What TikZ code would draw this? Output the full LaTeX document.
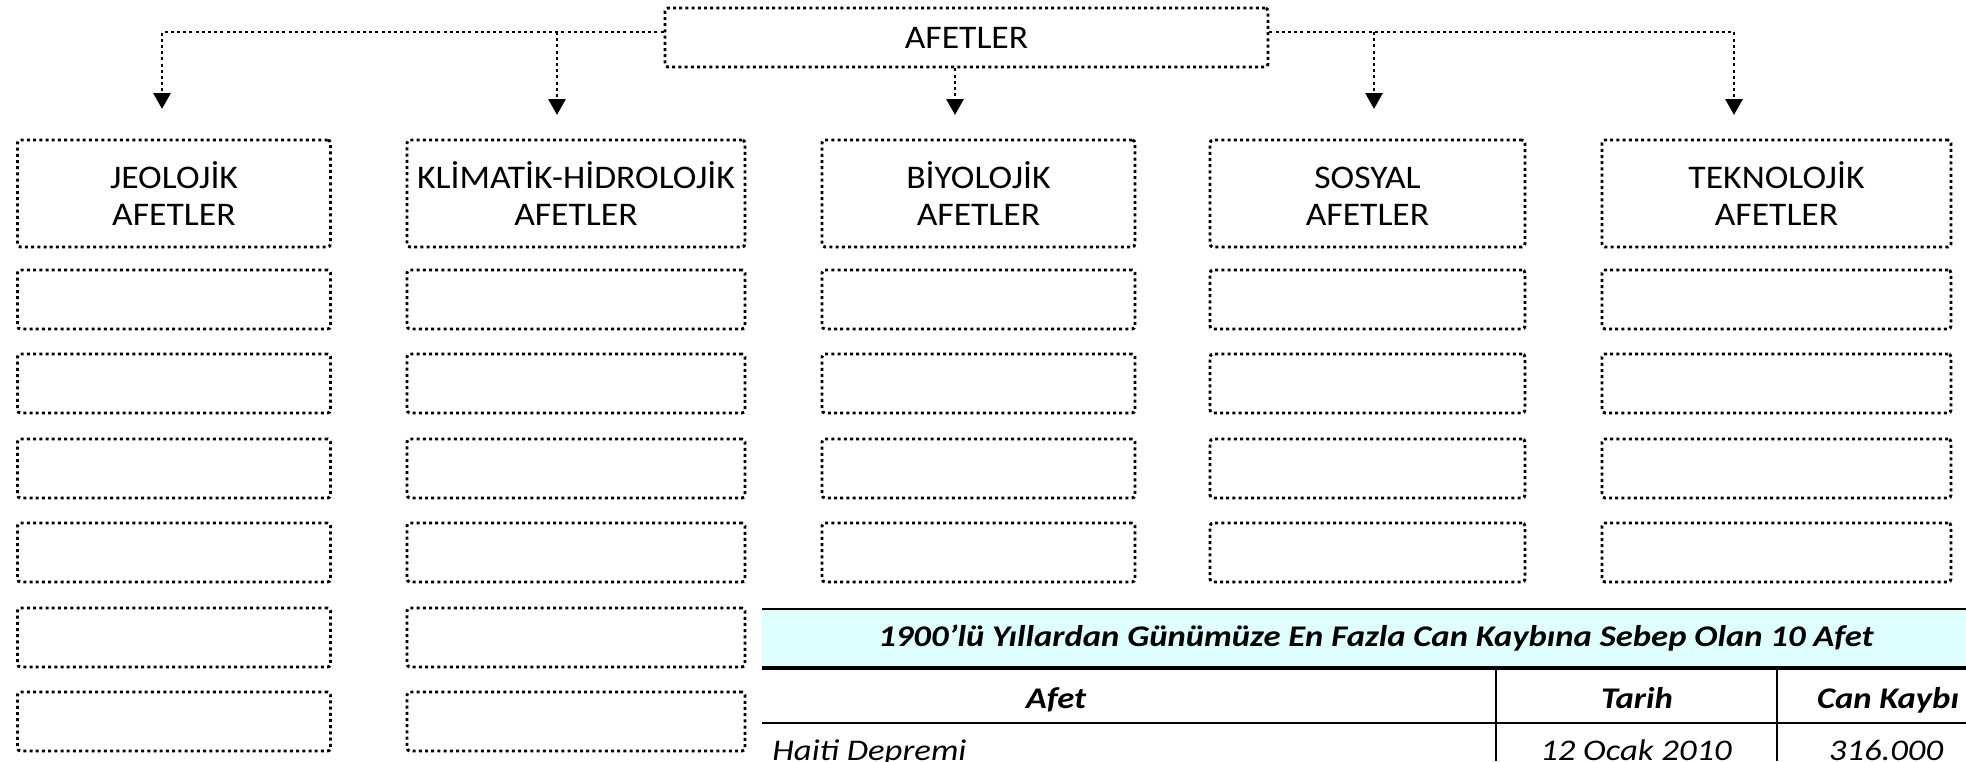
\documentclass[tikz,border=0pt]{standalone}
\usepackage{fontspec}
\setmainfont{Carlito}[FakeStretch=1.08]
\newfontfamily\tabfont{Carlito}[FakeStretch=1.155]
\usetikzlibrary{arrows.meta}
\definecolor{tcyan}{RGB}{223,255,255}
\begin{document}
\begin{tikzpicture}[x=0.5pt,y=-0.5pt,
  dotline/.style={line width=1.45pt, dash pattern=on 1.5pt off 1.6pt},
  box/.style={dotline, draw, rounded corners=1.5pt, inner sep=0pt, align=center, font=\fontsize{16.5}{18.5}\selectfont},
  conn/.style={dotline, -{Triangle[width=8.5pt,length=8pt]}},
  ttl/.style={font=\tabfont\fontsize{15}{17}\selectfont\bfseries\itshape, inner sep=0pt, anchor=base},
  cellt/.style={font=\tabfont\fontsize{15}{17}\selectfont\itshape, inner sep=0pt, anchor=base}
]
\useasboundingbox (0,0) rectangle (1966,761);

% top node
\node[box, minimum width=301.5pt, minimum height=29.5pt] (top) at (966.5,37.5) {AFETLER};

% column headers
\node[box, minimum width=156.5pt, minimum height=53.5pt] (h1) at (174,193.5) {JEOLOJİK\\AFETLER};
\node[box, minimum width=169pt, minimum height=53.5pt] (h2) at (576,193.5) {KLİMATİK-HİDROLOJİK\\AFETLER};
\node[box, minimum width=156.5pt, minimum height=53.5pt] (h3) at (978.5,193.5) {BİYOLOJİK\\AFETLER};
\node[box, minimum width=157.5pt, minimum height=53.5pt] (h4) at (1367.5,193.5) {\vphantom{İ}SOSYAL\\AFETLER};
\node[box, minimum width=174.5pt, minimum height=53.5pt] (h5) at (1776.5,193.5) {TEKNOLOJİK\\AFETLER};

% empty boxes
\foreach \r/\cy in {1/299.5,2/383.5,3/468.5,4/552.5,5/637.5,6/721.5} {
  \node[box, minimum width=156.5pt, minimum height=29.5pt] (b1-\r) at (174,\cy) {};
  \node[box, minimum width=169pt, minimum height=29.5pt] (b2-\r) at (576,\cy) {};
}
\foreach \r/\cy in {1/299.5,2/383.5,3/468.5,4/552.5} {
  \node[box, minimum width=156.5pt, minimum height=29.5pt] (b3-\r) at (978.5,\cy) {};
  \node[box, minimum width=157.5pt, minimum height=29.5pt] (b4-\r) at (1367.5,\cy) {};
  \node[box, minimum width=174.5pt, minimum height=29.5pt] (b5-\r) at (1776.5,\cy) {};
}

% connector ends
\coordinate (t1) at (162,109);
\coordinate (t2) at (557,115);
\coordinate (t3) at (955,115);
\coordinate (t4) at (1374,109);
\coordinate (t5) at (1734,115);
\coordinate (j2) at (557,32);
\coordinate (j4) at (1374,32);

\draw[conn] (top.west |- j2) -| (t1);
\draw[conn] (j2) -- (t2);
\draw[conn] (top.south -| t3) -- (t3);
\draw[conn] (j4) -- (t4);
\draw[conn] (top.east |- j4) -| (t5);

% table
\fill[tcyan] (762,609) rectangle (1966,668);
\draw[line width=1.4pt] (762,609) -- (1966,609);
\draw[line width=1.6pt] (762,668) -- (1966,668);
\draw[line width=1.2pt] (762,723) -- (1966,723);
\draw[line width=1.35pt] (1496,668) -- (1496,761);
\draw[line width=1.35pt] (1777,668) -- (1777,761);
\node[ttl] (ttl) at (1376,646) {1900’lü Yıllardan Günümüze En Fazla Can Kaybına Sebep Olan 10 Afet};
\node[ttl] (hafet) at (1056,708) {Afet};
\node[ttl] (htarih) at (1637,708) {Tarih};
\node[ttl] (hcan) at (1888,708) {Can Kaybı};
\node[cellt, anchor=base west] (d1) at (772,760) {Haiti Depremi};
\node[cellt] (d2) at (1636,760) {12 Ocak 2010};
\node[cellt] (d3) at (1886,760) {316.000};
\end{tikzpicture}
\end{document}
